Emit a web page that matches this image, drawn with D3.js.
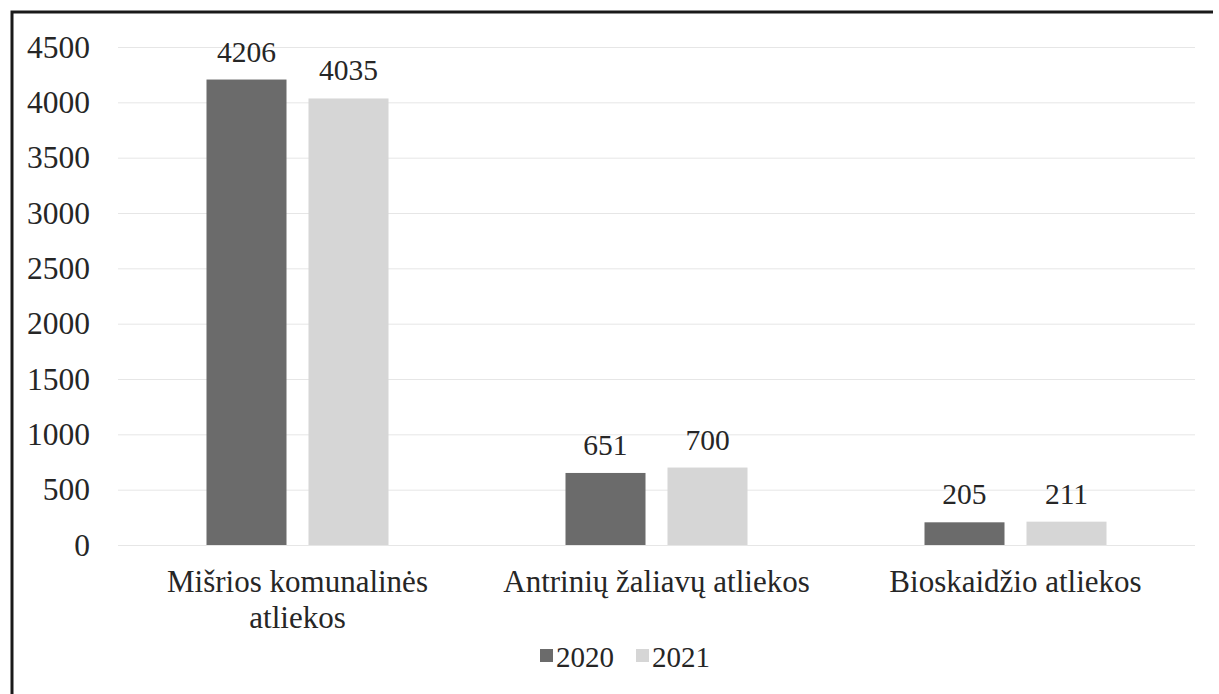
<!DOCTYPE html>
<html>
<head>
<meta charset="utf-8">
<script src="https://cdn.jsdelivr.net/npm/d3@7"></script>
<style>
  body { margin: 0; background: #fff; }
  svg text { font-family: "Liberation Serif", "Times New Roman", Times, serif; fill: #262626; }
</style>
</head>
<body>
<div id="chart"></div>
<script>
var width = 1219,
    height = 694,
    margin = { top: 47, right: 24, bottom: 149, left: 118 };

var categories = [['Mišrios komunalinės', 'atliekos'], ['Antrinių žaliavų atliekos'], ['Bioskaidžio atliekos']];
var series = ['2020', '2021'];
var values2020 = [4206, 651, 205];
var values2021 = [4035, 700, 211];
var yTicks = [0, 500, 1000, 1500, 2000, 2500, 3000, 3500, 4000, 4500];

var colors = ['#6b6b6b', '#d6d6d6'];
var serifFont = '"Liberation Serif", "Times New Roman", Times, serif';

var rows = categories.map(function(c, i){
    return { name: c.join(' '), lines: c, vals: [values2020[i], values2021[i]] };
});

var svg = d3.select('#chart').append('svg')
    .attr('width', width)
    .attr('height', height)
    .attr('font-family', serifFont);

// border (top + left visible in reference)
svg.append('path')
    .attr('d', 'M12,694 L12,12 L1213,12')
    .attr('fill', 'none')
    .attr('stroke', '#1a1a1a')
    .attr('stroke-width', 3);

var x0 = d3.scaleBand()
    .domain(rows.map(function(d){ return d.name; }))
    .range([margin.left, width - margin.right])
    .padding(0);

var x1 = d3.scaleBand()
    .domain(series)
    .range([0, x0.bandwidth()])
    .paddingInner(0.2157)
    .paddingOuter(0.8676);

var y = d3.scaleLinear()
    .domain([0, 4500])
    .range([height - margin.bottom, margin.top]);

// gridlines + tick labels
var yAxis = d3.axisLeft(y)
    .tickValues(yTicks)
    .tickFormat(d3.format('d'))
    .tickSize(-(width - margin.left - margin.right))
    .tickPadding(28);

var ga = svg.append('g')
    .attr('transform', 'translate(' + margin.left + ',0)')
    .call(yAxis)
    .attr('font-family', serifFont)
    .attr('font-size', 31.5);
ga.select('.domain').remove();
ga.selectAll('line').attr('stroke', '#e6e6e6');
ga.selectAll('text').attr('fill', '#262626');

var groups = svg.selectAll('g.cat')
    .data(rows)
    .enter().append('g')
    .attr('class', 'cat')
    .attr('transform', function(d){ return 'translate(' + x0(d.name) + ',0)'; });

groups.selectAll('rect')
    .data(function(d){ return d.vals.map(function(v, i){ return { s: series[i], v: v, i: i }; }); })
    .enter().append('rect')
    .attr('x', function(d){ return x1(d.s); })
    .attr('y', function(d){ return y(d.v); })
    .attr('width', x1.bandwidth())
    .attr('height', function(d){ return y(0) - y(d.v); })
    .attr('fill', function(d){ return colors[d.i]; });

groups.selectAll('text.val')
    .data(function(d){ return d.vals.map(function(v, i){ return { s: series[i], v: v }; }); })
    .enter().append('text')
    .attr('class', 'val')
    .attr('x', function(d){ return x1(d.s) + x1.bandwidth() / 2; })
    .attr('y', function(d){ return y(d.v) - 18; })
    .attr('text-anchor', 'middle')
    .style('font-size', '29.5px')
    .text(function(d){ return d.v; });

// category labels
groups.append('text')
    .attr('x', x0.bandwidth() / 2)
    .attr('y', 592)
    .attr('text-anchor', 'middle')
    .style('font-size', '31px')
    .selectAll('tspan')
    .data(function(d){ return d.lines; })
    .enter().append('tspan')
    .attr('x', x0.bandwidth() / 2)
    .attr('dy', function(d, i){ return i === 0 ? 0 : 36; })
    .text(function(d){ return d; });

// legend
var legend = svg.append('g')
    .attr('transform', 'translate(540,667)');

var li = legend.selectAll('g')
    .data(series)
    .enter().append('g')
    .attr('transform', function(d, i){ return 'translate(' + (i * 96) + ',0)'; });

li.append('rect')
    .attr('x', 0)
    .attr('y', -18)
    .attr('width', 13)
    .attr('height', 13)
    .attr('fill', function(d, i){ return colors[i]; });

li.append('text')
    .attr('x', 16)
    .attr('y', 0)
    .style('font-size', '29px')
    .text(function(d){ return d; });
</script>
</body>
</html>
